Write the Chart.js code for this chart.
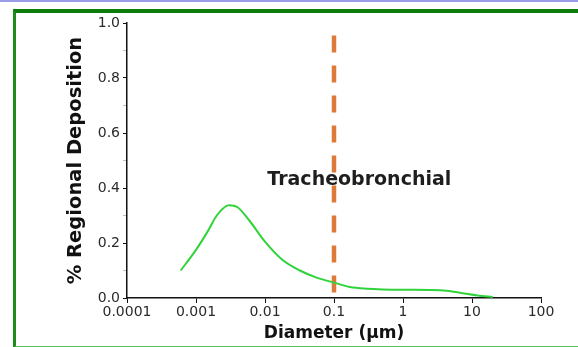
<!DOCTYPE html>
<html>
<head>
<meta charset="utf-8">
<script src="https://cdn.jsdelivr.net/npm/chart.js@4"></script>
<style>
  html, body { margin: 0; padding: 0; background: #fff; }
  body { width: 578px; height: 347px; position: relative; overflow: hidden; }
  #topline { position: absolute; left: 0; top: 0; width: 578px; height: 2px; background: #9a9ae6; }
  #frame {
    position: absolute; left: 13px; top: 9px; width: 600px; height: 333px;
    border-top: 4px solid #0b7d0b; border-left: 3px solid #1f8a1f; border-bottom: 2px solid #5cc25c;
  }
  #wrap { position: absolute; left: 0; top: 0; width: 578px; height: 347px; }
</style>
</head>
<body>
<div id="topline"></div>
<div id="frame"></div>
<div id="wrap"><canvas id="chart" width="578" height="347"></canvas></div>
<script>
// particle diameter (µm) and tracheobronchial deposition fraction
const diameters = [0.0006, 0.001, 0.0015, 0.002, 0.003, 0.004, 0.006, 0.01, 0.018, 0.032, 0.056, 0.1, 0.17, 0.3, 1, 3.5, 7, 12, 20];
const deposition = [0.10, 0.175, 0.245, 0.30, 0.337, 0.33, 0.28, 0.205, 0.138, 0.10, 0.074, 0.056, 0.04, 0.034, 0.03, 0.028, 0.018, 0.009, 0.004];

// boundary marker at 0.1 µm (drawn top to bottom)
const boundaryX = [0.1, 0.1];
const boundaryY = [0.955, 0];

const xTicks = [0.0001, 0.001, 0.01, 0.1, 1, 10, 100];
const xTickLabels = ['0.0001', '0.001', '0.01', '0.1', '1', '10', '100'];
const regionLabel = { text: 'Tracheobronchial', x: 0.0108, y: 0.43 };

const FONT = '"DejaVu Sans", Verdana, sans-serif';

const regionText = {
  id: 'regionText',
  afterDatasetsDraw(chart) {
    const { ctx, scales } = chart;
    ctx.save();
    ctx.font = 'bold 19px ' + FONT;
    ctx.fillStyle = '#1e1e1e';
    ctx.textAlign = 'left';
    ctx.textBaseline = 'middle';
    ctx.fillText(regionLabel.text, scales.x.getPixelForValue(regionLabel.x), scales.y.getPixelForValue(regionLabel.y));
    ctx.restore();
  }
};

new Chart(document.getElementById('chart'), {
  type: 'scatter',
  data: {
    datasets: [
      {
        data: boundaryX.map((x, i) => ({ x: x, y: boundaryY[i] })),
        showLine: true,
        borderColor: '#dd7a3a',
        borderWidth: 4.5,
        borderDash: [17, 13],
        pointRadius: 0,
        order: 2
      },
      {
        data: diameters.map((d, i) => ({ x: d, y: deposition[i] })),
        showLine: true,
        borderColor: '#30d33a',
        borderWidth: 2,
        tension: 0.4,
        cubicInterpolationMode: 'monotone',
        pointRadius: 0,
        order: 1
      }
    ]
  },
  options: {
    responsive: false,
    animation: false,
    layout: { padding: { left: 60, top: 23, right: 37, bottom: 0 } },
    plugins: { legend: { display: false }, tooltip: { enabled: false } },
    scales: {
      x: {
        type: 'logarithmic',
        min: 0.0001,
        max: 100,
        afterBuildTicks: (axis) => { axis.ticks = xTicks.map(v => ({ value: v })); },
        afterFit: (axis) => { axis.height = 49; },
        border: { color: '#111', width: 1.5 },
        grid: { drawOnChartArea: false, drawTicks: true, tickLength: 5, color: '#111' },
        ticks: {
          color: '#2a2a2a',
          padding: 1,
          maxRotation: 0,
          autoSkip: false,
          font: { family: FONT, size: 14 },
          callback: (v) => xTickLabels[xTicks.indexOf(v)] ?? ''
        },
        title: {
          display: true,
          text: 'Diameter (µm)',
          color: '#111',
          padding: { top: 0, bottom: 3 },
          font: { family: FONT, size: 17, weight: 'bold' }
        }
      },
      y: {
        min: 0,
        max: 1,
        afterFit: (axis) => { axis.width = 67; },
        border: { color: '#111', width: 1.5 },
        grid: {
          drawOnChartArea: false,
          drawTicks: true,
          tickLength: 4,
          color: (c) => (Math.round(c.tick.value * 10) % 2 === 0 ? '#111' : '#bbb')
        },
        ticks: {
          stepSize: 0.1,
          color: '#2a2a2a',
          padding: 3,
          font: { family: FONT, size: 14 },
          callback: (v) => (Math.round(v * 10) % 2 === 0 ? v.toFixed(1) : '')
        },
        title: {
          display: true,
          text: '% Regional Deposition',
          color: '#111',
          padding: { top: 4, bottom: 0 },
          font: { family: FONT, size: 19.5, weight: 'bold' }
        }
      }
    }
  },
  plugins: [regionText]
});
</script>
</body>
</html>
